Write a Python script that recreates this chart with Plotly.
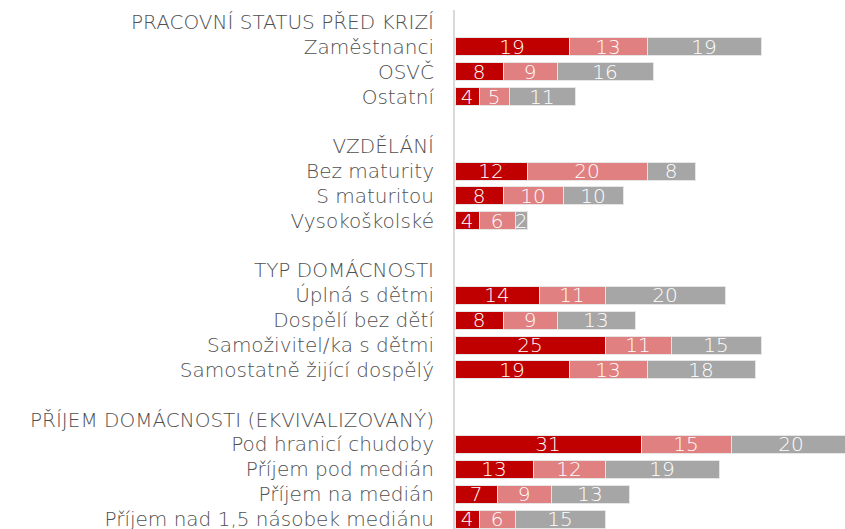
import plotly.graph_objects as go

# ── Data ───────────────────────────────────────────────
rows = [
    "PRACOVNÍ STATUS PŘED KRIZÍ", "Zaměstnanci", "OSVČ", "Ostatní", " ",
    "VZDĚLÁNÍ", "Bez maturity", "S maturitou", "Vysokoškolské", "  ",
    "TYP DOMÁCNOSTI", "Úplná s dětmi", "Dospělí bez dětí",
    "Samoživitel/ka s dětmi", "Samostatně žijící dospělý", "   ",
    "PŘÍJEM DOMÁCNOSTI (EKVIVALIZOVANÝ)", "Pod hranicí chudoby",
    "Příjem pod medián", "Příjem na medián", "Příjem nad 1,5 násobek mediánu",
]

categories = [
    "Zaměstnanci", "OSVČ", "Ostatní",
    "Bez maturity", "S maturitou", "Vysokoškolské",
    "Úplná s dětmi", "Dospělí bez dětí", "Samoživitel/ka s dětmi", "Samostatně žijící dospělý",
    "Pod hranicí chudoby", "Příjem pod medián", "Příjem na medián", "Příjem nad 1,5 násobek mediánu",
]
series_1 = [19, 8, 4, 12, 8, 4, 14, 8, 25, 19, 31, 13, 7, 4]
series_2 = [13, 9, 5, 20, 10, 6, 11, 9, 11, 13, 15, 12, 9, 6]
series_3 = [19, 16, 11, 8, 10, 2, 20, 13, 15, 18, 20, 19, 13, 15]

colors = ["#C00000", "#E08080", "#A6A6A6"]
FONT = "DejaVu Sans"

# ── Figure ─────────────────────────────────────────────
fig = go.Figure()
for vals, col in zip([series_1, series_2, series_3], colors):
    fig.add_trace(go.Bar(
        y=categories, x=vals, orientation="h",
        marker=dict(color=col, line=dict(color="#E6E6E6", width=1)),
        text=vals, textposition="inside", insidetextanchor="middle",
        textangle=0, textfont=dict(color="white", size=20, family=FONT, weight=300),
        width=0.72, showlegend=False, hoverinfo="skip",
    ))

fig.update_layout(
    barmode="stack",
    width=845, height=529,
    margin=dict(l=455, r=0, t=10, b=0),
    paper_bgcolor="white", plot_bgcolor="white",
    uniformtext=dict(minsize=20, mode="show"),
    font=dict(family=FONT, color="#505050", size=20),
)
fig.update_xaxes(range=[0, 65], visible=False, showgrid=False, zeroline=False)
fig.update_yaxes(
    categoryorder="array", categoryarray=rows, tickvals=rows,
    range=[20.4, -0.48], showgrid=False, zeroline=False,
    showline=True, linecolor="#D9D9D9", linewidth=2,
    ticks="", ticklabelstandoff=15, automargin=False,
    tickfont=dict(family=FONT, color="#505050", size=20, weight=300),
)

# drop the default page margin so the figure sits at the window's corner
fig.write_html("out.html", config={"displayModeBar": False},
               post_script="document.body.style.margin='0';document.body.style.overflow='hidden';")
